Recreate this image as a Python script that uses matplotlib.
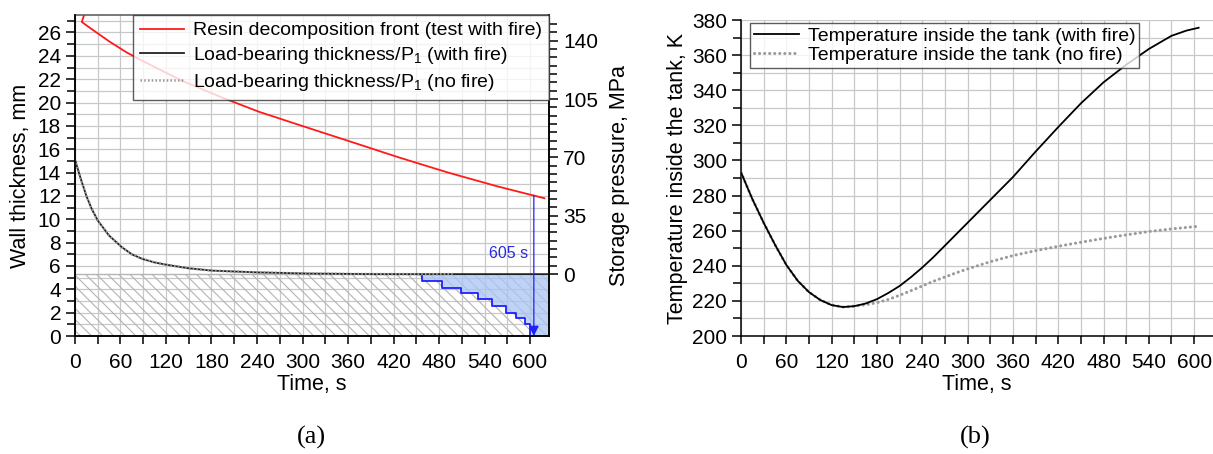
import numpy as np
import matplotlib
matplotlib.use("Agg")
import matplotlib.pyplot as plt
from matplotlib.ticker import MultipleLocator, FixedLocator

plt.rcParams["font.family"] = ["Liberation Sans", "DejaVu Sans"]
plt.rcParams["mathtext.fontset"] = "custom"
plt.rcParams["mathtext.rm"] = "Liberation Sans"
plt.rcParams["mathtext.it"] = "Liberation Sans:italic"
plt.rcParams["hatch.color"] = "#b4b4b4"
plt.rcParams["hatch.linewidth"] = 0.8

# ---- panel (a): wall thickness / storage pressure ----
resin_t = [12, 9, 24, 46, 68, 88, 140, 195, 243, 297, 361, 427, 492, 558, 619]
resin_mm = [27.5, 26.9, 26.2, 25.2, 24.3, 23.6, 21.9, 20.4, 19.2, 18.05, 16.7, 15.3, 14.0, 12.8, 11.8]

load_t = [0, 8, 15, 22, 30, 45, 62, 75, 89, 105, 121, 150, 181, 240, 308, 400, 500, 625]
load_fire_mm = [15.1, 13.4, 12.0, 10.9, 9.9, 8.6, 7.6, 7.0, 6.6, 6.3, 6.1, 5.8, 5.6, 5.45, 5.35, 5.3, 5.3, 5.3]
load_nofire_mm = [15.1, 13.4, 12.0, 10.9, 9.9, 8.6, 7.6, 7.0, 6.6, 6.3, 6.1, 5.8, 5.6, 5.45, 5.35, 5.3, 5.3, 5.3]

min_thickness = 5.3
stair_t = [457, 457, 484, 509, 531, 550, 568, 581, 593, 600, 625]
stair_mm = [5.3, 4.7, 4.1, 3.7, 3.2, 2.6, 2.0, 1.5, 1.0, 0.0, 0.0]
failure_t = 605
failure_top_mm = 12.05

# ---- panel (b): temperature inside the tank ----
temp_fire_t = [0, 15, 30, 45, 60, 75, 90, 105, 120, 135, 150, 165, 180, 195, 210, 225, 240, 255,
               270, 285, 300, 330, 360, 390, 420, 450, 480, 510, 540, 570, 590, 606]
temp_fire_K = [293.2, 278, 264.5, 252, 240.5, 231.5, 225, 220.5, 217.6, 216.5, 217, 218.5, 221, 224.5,
               228.5, 233.5, 239, 245, 251.5, 258, 264.5, 277.5, 290.5, 305, 319, 332.5, 344.5, 354.5,
               363.5, 371, 374, 375.6]
temp_nofire_t = [0, 15, 30, 45, 60, 75, 90, 105, 120, 135, 150, 165, 180, 195, 210, 225, 240, 255,
                 270, 285, 300, 330, 360, 390, 420, 450, 480, 510, 540, 570, 606]
temp_nofire_K = [293.2, 278, 264.5, 252, 240.5, 231.5, 225, 220.5, 217.6, 216.5, 217, 217.8, 219, 220.8,
                 223.2, 225.8, 228.5, 231.2, 233.6, 236, 238.2, 242.3, 245.8, 248.6, 251.1, 253.4,
                 255.6, 257.6, 259.5, 261, 262.5]

fig = plt.figure(figsize=(12.13, 4.54), dpi=100)
ax = fig.add_axes([0.0618, 0.2599, 0.3908, 0.7071])
axb = fig.add_axes([0.6109, 0.2599, 0.3891, 0.6960])

grid_kw = dict(color="#c8c8c8", linewidth=0.9)
tick_fs = 15
lab_fs = 15.5


def style_ticks(a):
    a.tick_params(which="both", direction="out", labelsize=tick_fs, width=1.1)
    a.tick_params(axis="y", which="major", length=6.5)
    a.tick_params(axis="y", which="minor", length=5.5)
    a.tick_params(axis="x", which="both", length=5.5, pad=7)


# panel (a)
ax.set_xlim(0, 625)
ax.set_ylim(0, 27.5)
ax.fill_between([0, 625], 0, min_thickness, facecolor="none", edgecolor="#b4b4b4",
                hatch="\\\\\\", linewidth=0, zorder=1)
ax.axhline(min_thickness, color="#b4b4b4", linewidth=1.0, zorder=1)
ax.fill_between(stair_t, stair_mm, min_thickness, step="post", color="#a9c5f3", alpha=0.75,
                linewidth=0, zorder=2)
ax.step(stair_t, stair_mm, where="post", color="#1f1fff", linewidth=1.3, zorder=3)

l1, = ax.plot(resin_t, resin_mm, color="#ff1a1a", linewidth=1.3, zorder=4,
              label="Resin decomposition front (test with fire)")
l2, = ax.plot(load_t, load_fire_mm, color="#222222", linewidth=1.3, zorder=4,
              label="Load-bearing thickness/P$_1$ (with fire)")
l3, = ax.plot(load_t[:-1], load_nofire_mm[:-1], color="#9a9a9a", linewidth=1.8, zorder=5,
              linestyle=(0, (0.6, 0.9)),
              label="Load-bearing thickness/P$_1$ (no fire)")

ax.annotate("", xy=(failure_t, 0.0), xytext=(failure_t, failure_top_mm),
            arrowprops=dict(arrowstyle="-|>", color="#1f1fff", lw=0.9, mutation_scale=15,
                            shrinkA=0, shrinkB=0), zorder=6)
ax.text(598, 7.1, "605 s", color="#2a2ae0", fontsize=11.5, ha="right", va="center", zorder=6)

ax.xaxis.set_major_locator(MultipleLocator(60))
ax.xaxis.set_minor_locator(MultipleLocator(30))
ax.yaxis.set_major_locator(MultipleLocator(2))
ax.yaxis.set_minor_locator(MultipleLocator(1))
ax.grid(True, which="both", zorder=0, **grid_kw)
ax.set_axisbelow(True)
style_ticks(ax)
ax.set_xlabel("Time, s", fontsize=lab_fs, labelpad=1)
ax.set_ylabel("Wall thickness, mm", fontsize=lab_fs, labelpad=5)
for s in ax.spines.values():
    s.set_linewidth(1.1)
ax.spines["top"].set_color("#555555")

ax2 = ax.twinx()
ax2.set_ylim((0 - min_thickness) * 7, (27.5 - min_thickness) * 7)
ax2.yaxis.set_major_locator(FixedLocator([0, 35, 70, 105, 140]))
ax2.yaxis.set_minor_locator(FixedLocator(np.arange(0, 155, 5)))
style_ticks(ax2)
ax2.set_ylabel("Storage pressure, MPa", fontsize=lab_fs, labelpad=8)
for s in ax2.spines.values():
    s.set_linewidth(1.1)
ax2.spines["top"].set_visible(False)

leg = ax2.legend(handles=[l1, l2, l3], loc="upper right", fontsize=14, frameon=True,
                 fancybox=False, borderaxespad=0, handlelength=2.3, handletextpad=0.45,
                 labelspacing=0.3, borderpad=0.35)
leg.get_frame().set_edgecolor("#333333")
leg.get_frame().set_linewidth(1.0)

# panel (b)
axb.set_xlim(0, 625)
axb.set_ylim(200, 380)
b1, = axb.plot(temp_fire_t, temp_fire_K, color="black", linewidth=1.3, zorder=4,
               label="Temperature inside the tank (with fire)")
b2, = axb.plot(temp_nofire_t, temp_nofire_K, color="#9a9a9a", linewidth=2.2, zorder=3,
               linestyle=(0, (0.05, 1.6)), dash_capstyle="round",
               label="Temperature inside the tank (no fire)")
axb.xaxis.set_major_locator(MultipleLocator(60))
axb.xaxis.set_minor_locator(MultipleLocator(30))
axb.yaxis.set_major_locator(MultipleLocator(20))
axb.yaxis.set_minor_locator(MultipleLocator(10))
axb.grid(True, which="both", zorder=0, **grid_kw)
axb.set_axisbelow(True)
style_ticks(axb)
axb.spines["top"].set_visible(False)
axb.spines["right"].set_visible(False)
for s in axb.spines.values():
    s.set_linewidth(1.1)
axb.set_xlabel("Time, s", fontsize=lab_fs, labelpad=1)
axb.set_ylabel("Temperature inside the tank, K", fontsize=lab_fs, labelpad=3)
legb = axb.legend(handles=[b1, b2], loc="upper left", bbox_to_anchor=(0.02, 0.99), fontsize=14,
                  frameon=True, fancybox=False, borderaxespad=0, handlelength=2.3,
                  handletextpad=0.45, labelspacing=0.1, borderpad=0.2)
legb.get_frame().set_edgecolor("#333333")
legb.get_frame().set_linewidth(1.0)

fig.text(0.257, 0.037, "(a)", fontsize=19, family="Liberation Serif", ha="center", va="center")
fig.text(0.804, 0.037, "(b)", fontsize=19, family="Liberation Serif", ha="center", va="center")

fig.savefig("out.png", dpi=100)
